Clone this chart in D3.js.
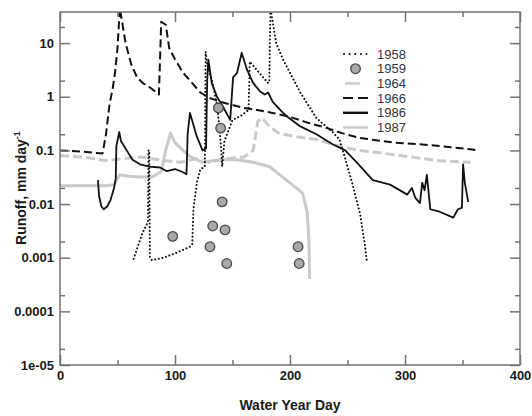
<!DOCTYPE html>
<html>
<head>
<meta charset="utf-8">
<script src="https://cdn.jsdelivr.net/npm/d3@7"></script>
<style>
  body { margin: 0; background: #fff; }
  svg text { font-family: "Liberation Sans", Arial, sans-serif; }
</style>
</head>
<body>
<div id="chart"></div>
<script>
// valeurs : [jour, ruissellement mm/jour]
const run1958 = [[64,0.00095],[68,0.0017],[72,0.003],[76.5,0.0046],[77,0.1],[77.6,0.1],[78.2,0.001],[80,0.0009],[90,0.001],[100,0.0012],[113,0.0016],[115,0.0018],[116,0.008],[119,0.025],[122,0.044],[126,0.05],[126.6,6.9],[128,4],[133,1.7],[137,0.6],[140,0.12],[141,0.05],[143,0.15],[150,0.37],[158,0.45],[164,0.57],[165,4.5],[172,3],[181,1.8],[182,1.9],[183,45],[188,10],[194,4.9],[209,1.2],[223,0.4],[237,0.22],[243,0.16],[248,0.07],[254,0.025],[261,0.0065],[265,0.0018],[267,0.0008]];

const days1959 = [98, 130.4, 132.8, 137.7, 139.7, 141, 143.5, 145, 207, 208];
const vals1959 = [0.0025, 0.0016, 0.0039, 0.62, 0.26, 0.011, 0.0033, 0.00078, 0.0016, 0.00078];

const run1964 = [[0,0.08],[20,0.075],[40,0.065],[55,0.07],[70,0.075],[90,0.065],[105,0.06],[118,0.07],[130,0.06],[145,0.07],[160,0.075],[168,0.1],[172,0.35],[176,0.4],[182,0.28],[190,0.21],[205,0.18],[223,0.16],[243,0.12],[260,0.1],[278,0.09],[302,0.077],[330,0.064],[357,0.06]];

const run1966 = [[0,0.1],[10,0.098],[20,0.095],[30,0.09],[37,0.088],[40,0.2],[43,0.7],[46,1.5],[48,3],[50,8],[52,45],[54,25],[57,10],[62,4],[67,2.3],[72,1.8],[78,1.5],[86,1.1],[87,5],[88,25],[92,22],[95,8],[100,5],[107,2.8],[115,1.8],[122,1.2],[130,0.95],[140,0.8],[150,0.7],[160,0.62],[175,0.55],[185,0.5],[200,0.42],[215,0.33],[230,0.27],[245,0.21],[261,0.17],[290,0.14],[313,0.13],[340,0.115],[357,0.105],[363,0.1]];

const run1986 = [[33,0.028],[34,0.014],[36,0.009],[38,0.008],[41,0.009],[44,0.012],[47,0.02],[48.5,0.03],[49,0.12],[51.5,0.22],[53,0.15],[58,0.1],[63,0.067],[69.5,0.055],[78,0.05],[87,0.048],[93,0.041],[100,0.045],[106,0.04],[110,0.036],[111,0.2],[113,0.5],[116,0.3],[119,0.18],[124,0.1],[127,0.11],[128,2],[129,4.9],[132,1.8],[136.5,1.0],[141.7,0.65],[148,0.37],[150.5,2.3],[154,2.8],[158,6.6],[162.6,3.2],[168,1.8],[174,1.25],[178,1.1],[181,1.2],[185,0.8],[189,0.65],[194,0.5],[198,0.42],[209,0.28],[223,0.2],[237,0.13],[248,0.1],[258,0.06],[272,0.028],[287,0.023],[302,0.015],[306,0.02],[309,0.013],[313,0.0104],[315,0.025],[317,0.018],[319,0.035],[322,0.008],[330,0.0072],[342,0.0056],[346,0.008],[349.5,0.0085],[350.5,0.055],[352,0.025],[355,0.011]];

const run1987 = [[0,0.022],[20,0.022],[40,0.022],[47,0.023],[50,0.03],[52,0.035],[60,0.033],[70,0.032],[80,0.032],[88,0.04],[92,0.1],[96,0.21],[100,0.14],[107,0.1],[113,0.077],[124,0.06],[139,0.067],[154,0.067],[168,0.06],[182,0.05],[197,0.028],[211,0.016],[215,0.007],[216.5,0.002],[217,0.0004]];

const legendYears = ["1958", "1959", "1964", "1966", "1986", "1987"];

const xMajor = [0, 100, 200, 300, 400];
const xMinor = [50, 150, 250, 350];
const yMajor = [1e-5, 1e-4, 1e-3, 1e-2, 0.1, 1, 10];
const yLabels = ["1e-05", "0.0001", "0.001", "0.01", "0.1", "1", "10"];
const yMinor = [2e-5, 2e-4, 2e-3, 2e-2, 0.2, 2, 20];

const W = 532, H = 416;
const margin = {top: 12, right: 12, bottom: 51, left: 60};

const svg = d3.select("#chart").append("svg")
    .attr("width", W)
    .attr("height", H);

const x = d3.scaleLinear().domain([0, 400]).range([margin.left, W - margin.right]);
const y = d3.scaleLog().domain([1e-5, 38]).range([H - margin.bottom, margin.top]);

const axisColor = "#737373";

// clip pour les pics qui sortent du cadre
svg.append("clipPath").attr("id", "clip")
  .append("rect")
    .attr("x", x(0)).attr("y", y.range()[1])
    .attr("width", x(400) - x(0))
    .attr("height", y.range()[0] - y.range()[1]);

const plot = svg.append("g").attr("clip-path", "url(#clip)");

const line = d3.line()
    .x(d => x(d[0]))
    .y(d => y(d[1]));

const styles = {
  "1958": {stroke: "#111", width: 2, dash: "0.1,3.6", cap: "round"},
  "1964": {stroke: "#cacaca", width: 3, dash: "9,4", cap: "butt"},
  "1966": {stroke: "#111", width: 2, dash: "8,4", cap: "butt"},
  "1986": {stroke: "#111", width: 1.8, dash: null, cap: "butt"},
  "1987": {stroke: "#cacaca", width: 3, dash: null, cap: "butt"}
};

const series = [["1987", run1987], ["1964", run1964], ["1958", run1958], ["1966", run1966], ["1986", run1986]];

series.forEach(([yr, pts]) => {
  const s = styles[yr];
  plot.append("path")
      .datum(pts)
      .attr("d", line)
      .attr("fill", "none")
      .attr("stroke", s.stroke)
      .attr("stroke-width", s.width)
      .attr("stroke-dasharray", s.dash)
      .attr("stroke-linecap", s.cap)
      .attr("stroke-linejoin", "round");
});

// 1959 : points seulement
plot.selectAll("circle.p59")
  .data(d3.zip(days1959, vals1959))
  .enter()
  .append("circle")
    .attr("class", "p59")
    .attr("cx", d => x(d[0]))
    .attr("cy", d => y(d[1]))
    .attr("r", 4.8)
    .attr("fill", "#a9a9a9")
    .attr("stroke", "#4a4a4a")
    .attr("stroke-width", 1.3);

// axes
function styleAxis(g) {
  g.select(".domain").remove();
  g.selectAll(".tick line").attr("stroke", axisColor).attr("stroke-width", 1.5);
  g.selectAll(".tick text")
    .attr("fill", "#1a1a1a")
    .style("font-size", "13px")
    .style("font-weight", "bold");
}

const bottom = H - margin.bottom, right = W - margin.right;

svg.append("g").attr("transform", `translate(0,${bottom})`)
  .call(d3.axisBottom(x).tickValues(xMajor).tickSize(-10).tickPadding(6).tickFormat(d3.format("d")))
  .call(styleAxis);
svg.append("g").attr("transform", `translate(0,${bottom})`)
  .call(d3.axisBottom(x).tickValues(xMinor).tickSize(-5).tickFormat(""))
  .call(styleAxis);
svg.append("g").attr("transform", `translate(0,${margin.top})`)
  .call(d3.axisTop(x).tickValues(xMajor).tickSize(-10).tickFormat(""))
  .call(styleAxis);
svg.append("g").attr("transform", `translate(0,${margin.top})`)
  .call(d3.axisTop(x).tickValues(xMinor).tickSize(-5).tickFormat(""))
  .call(styleAxis);

svg.append("g").attr("transform", `translate(${margin.left},0)`)
  .call(d3.axisLeft(y).tickValues(yMajor).tickSize(-10).tickPadding(6).tickFormat((d, i) => yLabels[i]))
  .call(styleAxis);
svg.append("g").attr("transform", `translate(${margin.left},0)`)
  .call(d3.axisLeft(y).tickValues(yMinor).tickSize(-5).tickFormat(""))
  .call(styleAxis);
svg.append("g").attr("transform", `translate(${right},0)`)
  .call(d3.axisRight(y).tickValues(yMajor).tickSize(-10).tickFormat(""))
  .call(styleAxis);
svg.append("g").attr("transform", `translate(${right},0)`)
  .call(d3.axisRight(y).tickValues(yMinor).tickSize(-5).tickFormat(""))
  .call(styleAxis);

// cadre
svg.append("rect")
    .attr("x", x(0)).attr("y", margin.top)
    .attr("width", x(400) - x(0))
    .attr("height", bottom - margin.top)
    .attr("fill", "none")
    .attr("stroke", axisColor)
    .attr("stroke-width", 1.5);

// titres des axes
svg.append("text")
    .attr("x", (x(0) + x(400)) / 2)
    .attr("y", 410)
    .attr("text-anchor", "middle")
    .style("font-size", "14px")
    .style("font-weight", "bold")
    .attr("fill", "#1a1a1a")
    .text("Water Year Day");

const ylab = svg.append("text")
    .attr("transform", "translate(26,188) rotate(-90)")
    .attr("text-anchor", "middle")
    .style("font-size", "14px")
    .style("font-weight", "bold")
    .attr("fill", "#1a1a1a");
ylab.append("tspan").text("Runoff, mm day");
ylab.append("tspan").attr("dy", -6).style("font-size", "9px").text("-1");

// légende
const legend = svg.append("g").attr("transform", "translate(343,54)");
const rowH = 14.7;

legendYears.forEach((yr, i) => {
  const g = legend.append("g").attr("transform", `translate(0,${i * rowH})`);
  if (yr === "1959") {
    g.append("circle").attr("cx", 12.5).attr("cy", 0).attr("r", 4.8)
      .attr("fill", "#a9a9a9").attr("stroke", "#4a4a4a").attr("stroke-width", 1.3);
  } else {
    const s = styles[yr];
    const x1 = yr === "1958" ? 1 : (yr === "1964" ? 2 : 0);
    const x2 = yr === "1964" ? 17 : 25;
    g.append("line")
      .attr("x1", x1).attr("x2", x2).attr("y1", 0).attr("y2", 0)
      .attr("stroke", s.stroke)
      .attr("stroke-width", yr === "1964" || yr === "1987" ? 2.5 : (yr === "1986" ? 2.4 : s.width))
      .attr("stroke-dasharray", yr === "1966" ? "10,5" : (yr === "1958" ? "0.1,5.5" : null))
      .attr("stroke-linecap", s.cap);
  }
  g.append("text")
    .attr("x", 34).attr("y", 4.6)
    .style("font-size", "13px")
    .attr("fill", "#333")
    .text(yr);
});
</script>
</body>
</html>
